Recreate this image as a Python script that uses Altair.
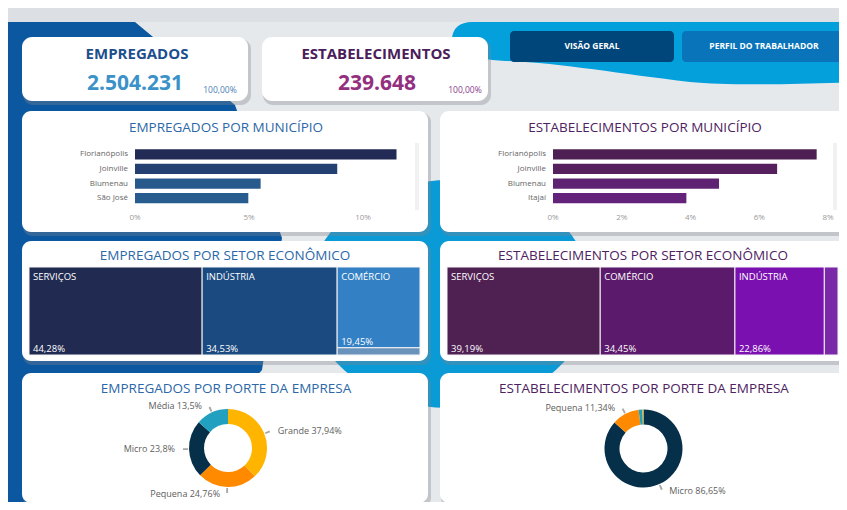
import altair as alt
import pandas as pd

FONT = "Open Sans"
OFF = 8

# ---------------- data ----------------
kpi_titles = ["EMPREGADOS", "ESTABELECIMENTOS"]
kpi_values = ["2.504.231", "239.648"]
kpi_pcts = ["100,00%", "100,00%"]
buttons = ["VISÃO GERAL", "PERFIL DO TRABALHADOR"]

emp_cities = ["Florianópolis", "Joinville", "Blumenau", "São José"]
emp_city_share = [11.47, 8.87, 5.51, 4.97]
est_cities = ["Florianópolis", "Joinville", "Blumenau", "Itajaí"]
est_city_share = [7.67, 6.52, 4.83, 3.88]
emp_ticks = [0, 5, 10]
est_ticks = [0, 2, 4, 6, 8]

emp_sectors = ["SERVIÇOS", "INDÚSTRIA", "COMÉRCIO", "AGROPECUÁRIA"]
emp_sector_share = [44.28, 34.53, 19.45, 1.74]
emp_sector_col = [0, 1, 2, 2]
est_sectors = ["SERVIÇOS", "COMÉRCIO", "INDÚSTRIA", "AGROPECUÁRIA"]
est_sector_share = [39.19, 34.45, 22.86, 3.50]
est_sector_col = [0, 1, 2, 3]

emp_sizes = ["Grande", "Pequena", "Micro", "Média"]
emp_size_share = [37.94, 24.76, 23.8, 13.5]
est_sizes = ["Micro", "Pequena", "Média", "Grande"]
est_size_share = [86.65, 11.34, 1.6, 0.41]

panel_titles = ["EMPREGADOS POR MUNICÍPIO", "ESTABELECIMENTOS POR MUNICÍPIO",
                "EMPREGADOS POR SETOR ECONÔMICO", "ESTABELECIMENTOS POR SETOR ECONÔMICO",
                "EMPREGADOS POR PORTE DA EMPRESA", "ESTABELECIMENTOS POR PORTE DA EMPRESA"]

# ---------------- styles ----------------
emp_bar_colors = ["#222b55", "#243f71", "#28598c", "#285c8f"]
est_bar_colors = ["#4e1f52", "#561f5e", "#5f2273", "#63237b"]
emp_tree_colors = ["#212b52", "#1b4a80", "#3381c4", "#6a93bb"]
est_tree_colors = ["#4f2052", "#5b1a6b", "#7a10b0", "#7a2aa8"]
size_colors = {"Grande": "#ffb400", "Pequena": "#ff8a00", "Micro": "#062f4a", "Média": "#21a1bf"}
EMP_T = "#2c67a8"
EST_T = "#4e2260"


def X(v):
    return v - OFF


def Y(v):
    return v - OFF


one = pd.DataFrame({"k": [0]})


def box(x0, y0, x1, y1, color, r=0, opacity=1.0):
    return alt.Chart(one).mark_rect(color=color, cornerRadius=r, opacity=opacity).encode(
        x=alt.value(X(x0)), x2=alt.value(X(x1)), y=alt.value(Y(y0)), y2=alt.value(Y(y1)))


def label(x, y, s, size, color, weight="normal", align="center"):
    return alt.Chart(one).mark_text(text=s, font=FONT, fontSize=size, fontWeight=weight,
                                    color=color, align=align, baseline="alphabetic").encode(
        x=alt.value(X(x)), y=alt.value(Y(y + 0.36 * size)))


def shape(path, color):
    return alt.Chart(one).mark_point(shape=path, size=4, filled=True, color=color, fill=color,
                                     opacity=1, strokeWidth=0).encode(
        x=alt.value(-OFF), y=alt.value(-OFF))


def fmt2(v):
    return f"{v:.2f}".replace(".", ",") + "%"


def fmtg(v):
    return f"{v:g}".replace(".", ",") + "%"


layers = []

# ---------------- background ----------------
layers.append(box(8, 8, 860, 520, "#e6e9ec"))
layers.append(box(8, 8, 860, 22, "#dcdfe3"))
layers.append(shape("M8,22 L135,22 L235,105 L282,238 L262,370 L130,520 L8,520 Z", "#0b57a0"))
layers.append(shape("M308,294 A142,114 0 1,0 592,294 A142,114 0 1,0 308,294 Z", "#0a9ad6"))
layers.append(shape("M452,40 C452,28 460,22 472,22 L860,22 L860,82 C800,84 730,86 690,82 "
                    "C620,74 560,63 505,61 C470,59 452,52 452,40 Z", "#04a0dc"))

# ---------------- cards ----------------
cards = [(22, 37, 248, 101, 10), (262, 37, 488, 101, 10),
         (22, 111, 428, 232, 9), (440, 111, 846, 232, 9),
         (22, 241, 428, 361, 9), (440, 241, 846, 361, 9),
         (22, 373, 428, 503, 9), (440, 373, 846, 503, 9)]
for (x0, y0, x1, y1, r) in cards:
    layers.append(box(x0 + 1, y0 + 2, x1 + 3, y1 + 4, "#7d848b", r, 0.35))
for (x0, y0, x1, y1, r) in cards:
    layers.append(box(x0, y0, x1, y1, "white", r))

# buttons
layers.append(box(510, 31, 674, 62, "#00467a", 4))
layers.append(box(682, 31, 846, 62, "#0a74ba", 4))
layers.append(label(592, 46, buttons[0], 8.5, "white", "bold"))
layers.append(label(764, 46, buttons[1], 8.5, "white", "bold"))

# KPI texts
layers.append(label(137, 54, kpi_titles[0], 15, "#1d4f8e", "bold"))
layers.append(label(135, 82, kpi_values[0], 21, "#3b92c8", "bold"))
layers.append(label(220, 90, kpi_pcts[0], 8.5, "#4a7fb8"))
layers.append(label(376, 54, kpi_titles[1], 15, "#4b1d5b", "bold"))
layers.append(label(377, 82, kpi_values[1], 21, "#92307f", "bold"))
layers.append(label(465, 90, kpi_pcts[1], 8.5, "#8b3c8b"))

# panel titles
for t, (x, y), c in zip(panel_titles,
                        [(226, 127), (645, 127), (225, 255), (643, 255), (226, 388), (644, 388)],
                        [EMP_T, EST_T, EMP_T, EST_T, EMP_T, EST_T]):
    layers.append(label(x, y, t, 13.5, c))


# ---------------- bar charts ----------------
def bar_layers(cities, share, colors, ticks, dmax, xa, xb, lab_x, track_x):
    df = pd.DataFrame({"city": cities, "share": share})
    xs = alt.Scale(domain=[0, dmax], range=[X(xa), X(xb)], nice=False, zero=True)
    ys = alt.Scale(domain=cities, range=[Y(147), Y(205.5)], paddingInner=0.3, paddingOuter=0.15)
    out = []
    out.append(box(track_x, 143, track_x + 4, 210, "#f1f1f1"))
    out.append(alt.Chart(df).mark_bar().encode(
        x=alt.X("share:Q", scale=xs, axis=None),
        y=alt.Y("city:N", scale=ys, axis=None),
        color=alt.Color("city:N", scale=alt.Scale(domain=cities, range=colors), legend=None)))
    out.append(alt.Chart(df).mark_text(align="right", baseline="middle", font=FONT, fontSize=8,
                                       color="#666666").encode(
        x=alt.value(X(lab_x)), y=alt.Y("city:N", scale=ys, axis=None), text="city:N"))
    tdf = pd.DataFrame({"t": ticks, "lab": [f"{t}%" for t in ticks]})
    out.append(alt.Chart(tdf).mark_text(align="center", baseline="middle", font=FONT, fontSize=8,
                                        color="#9a9a9a").encode(
        x=alt.X("t:Q", scale=xs, axis=None), y=alt.value(Y(218)), text="lab:N"))
    return out


layers += bar_layers(emp_cities, emp_city_share, emp_bar_colors, emp_ticks, 10, 135, 363, 128, 415)
layers += bar_layers(est_cities, est_city_share, est_bar_colors, est_ticks, 8, 553, 828, 546, 833)


# ---------------- treemaps ----------------
def treemap_layers(names, vals, cols, colors, xa, xb, ya, yb):
    rows = []
    x = 0.0
    for c in sorted(set(cols)):
        idx = [i for i, k in enumerate(cols) if k == c]
        tot = sum(vals[i] for i in idx)
        y = 0.0
        for i in idx:
            f = vals[i] / tot
            big = vals[i] >= 5
            rows.append(dict(name=names[i], v=vals[i], x0=x, x1=x + tot, y0=y, y1=y + f,
                             label=names[i] if big else "", pct=fmt2(vals[i]) if big else ""))
            y += f
        x += tot
    df = pd.DataFrame(rows)
    xs = alt.Scale(domain=[0, 100], range=[X(xa), X(xb)], nice=False, zero=False)
    ys = alt.Scale(domain=[0, 1], range=[Y(ya), Y(yb)], nice=False, zero=False)
    out = []
    out.append(alt.Chart(df).mark_rect(stroke="#f4f4f4", strokeWidth=1).encode(
        x=alt.X("x0:Q", scale=xs, axis=None), x2="x1:Q",
        y=alt.Y("y0:Q", scale=ys, axis=None), y2="y1:Q",
        color=alt.Color("name:N", scale=alt.Scale(domain=names, range=colors), legend=None)))
    out.append(alt.Chart(df).transform_filter("datum.label != ''").mark_text(
        align="left", baseline="top", dx=4, dy=5, font=FONT, fontSize=9.5, color="white").encode(
        x=alt.X("x0:Q", scale=xs, axis=None), y=alt.Y("y0:Q", scale=ys, axis=None), text="label:N"))
    out.append(alt.Chart(df).transform_filter("datum.pct != ''").mark_text(
        align="left", baseline="bottom", dx=4, dy=-1, font=FONT, fontSize=9.5, color="white").encode(
        x=alt.X("x0:Q", scale=xs, axis=None), y=alt.Y("y1:Q", scale=ys, axis=None), text="pct:N"))
    return out


layers += treemap_layers(emp_sectors, emp_sector_share, emp_sector_col, emp_tree_colors, 29, 420, 267, 355)
layers += treemap_layers(est_sectors, est_sector_share, est_sector_col, est_tree_colors, 447, 838, 267, 355)


# ---------------- donuts ----------------
def donut_layers(names, vals, cx, cy):
    rows = []
    cum = 0.0
    for i, (n, v) in enumerate(zip(names, vals)):
        mid = cum + v / 2
        rows.append(dict(i=i, name=n, v=v, mid=mid, t0=mid - 0.35, t1=mid + 0.35,
                         side="L" if mid > 50 else "R",
                         label=f"{n} {fmtg(v)}" if v >= 5 else ""))
        cum += v
    df = pd.DataFrame(rows)
    ts = alt.Scale(domain=[0, 100], nice=False, zero=True)
    out = []
    out.append(alt.Chart(df).mark_arc(radius=39, radius2=24).encode(
        theta=alt.Theta("v:Q", stack=True, scale=ts),
        order=alt.Order("i:Q"),
        color=alt.Color("name:N", scale=alt.Scale(domain=names, range=[size_colors[n] for n in names]),
                        legend=None),
        x=alt.value(X(cx)), y=alt.value(Y(cy))))
    out.append(alt.Chart(df).transform_filter("datum.label != ''").mark_arc(
        radius=45, radius2=40, color="#a8a8a8").encode(
        theta=alt.Theta("t0:Q", stack=None, scale=ts), theta2="t1:Q",
        x=alt.value(X(cx)), y=alt.value(Y(cy))))
    for side, align, dx in [("R", "left", 7), ("L", "right", -7)]:
        out.append(alt.Chart(df).transform_filter(
            f"datum.label != '' && datum.side == '{side}'").mark_text(
            radius=46, align=align, baseline="middle", dx=dx, font=FONT, fontSize=9,
            color="#605e5c").encode(
            theta=alt.Theta("mid:Q", stack=None, scale=ts), text="label:N",
            x=alt.value(X(cx)), y=alt.value(Y(cy))))
    return out


layers += donut_layers(emp_sizes, emp_size_share, 228, 448)
layers += donut_layers(est_sizes, est_size_share, 643.5, 448.5)

chart = alt.layer(*layers).resolve_scale(
    x="independent", y="independent", color="independent", theta="independent"
).properties(
    width=831, height=494, autosize=alt.AutoSizeParams(type="none"), padding=0, background="white"
).configure_view(strokeWidth=0)

chart.save("out.html", embed_options={"renderer": "svg", "actions": False})
